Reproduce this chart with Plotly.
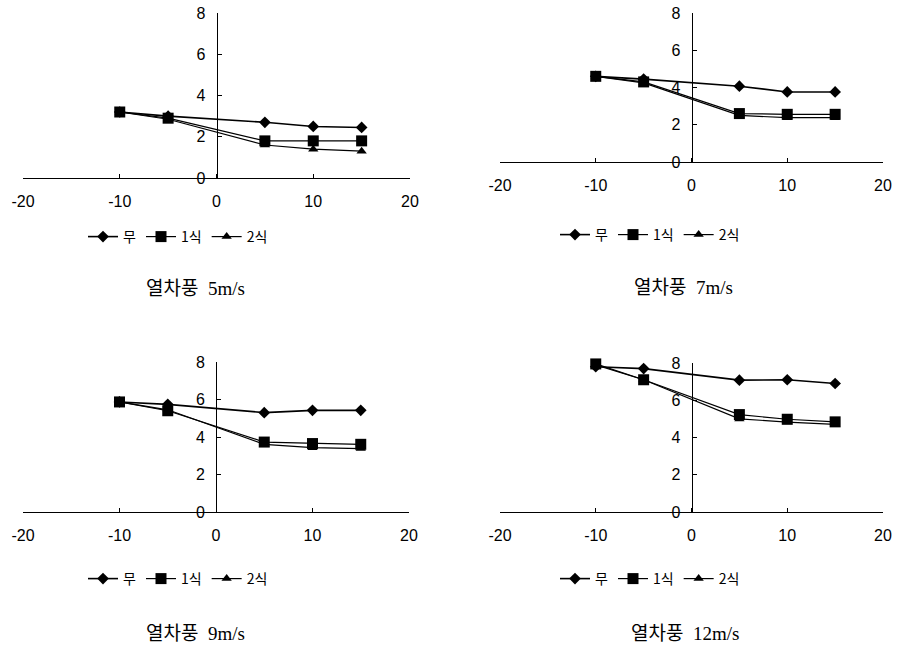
import plotly.graph_objects as go

# ---- data ----
x_vals = [-10, -5, 5, 10, 15]
series_names = ["무", "1식", "2식"]
captions = ["열차풍  5m/s", "열차풍  7m/s", "열차풍  9m/s", "열차풍  12m/s"]

p1_mu = [3.2, 3.0, 2.7, 2.5, 2.45]
p1_s1 = [3.2, 2.9, 1.8, 1.8, 1.8]
p1_s2 = [3.2, 2.85, 1.6, 1.4, 1.3]

p2_mu = [4.6, 4.45, 4.07, 3.76, 3.76]
p2_s1 = [4.6, 4.3, 2.6, 2.56, 2.56]
p2_s2 = [4.6, 4.25, 2.5, 2.38, 2.38]

p3_mu = [5.87, 5.74, 5.3, 5.42, 5.42]
p3_s1 = [5.87, 5.4, 3.73, 3.65, 3.61]
p3_s2 = [5.87, 5.45, 3.61, 3.43, 3.38]

p4_mu = [7.8, 7.7, 7.08, 7.1, 6.9]
p4_s1 = [7.95, 7.1, 5.23, 4.98, 4.84]
p4_s2 = [7.9, 7.1, 5.0, 4.83, 4.71]

panels = [
    (p1_mu, p1_s1, p1_s2),
    (p2_mu, p2_s1, p2_s2),
    (p3_mu, p3_s1, p3_s2),
    (p4_mu, p4_s1, p4_s2),
]

x_ticks = [-20, -10, 0, 10, 20]
x_ticktext = ["-20", "-10", "0", "10", "20"]
y_ticks = [0, 2, 4, 6, 8]

# ---- layout geometry (pixels in 899x645 canvas) ----
W, H = 899, 645
# (x_left(-20), x_right(20), y_top(8), y_bottom(0))
boxes = [
    (23, 410, 13, 178),
    (500, 883, 13, 162),
    (23, 409, 362, 512),
    (500, 883, 363, 512),
]
legend_pos = [(178, 237), (650, 235), (178, 579), (650, 579)]
caption_pos = [(195, 289), (683, 287), (195, 633), (685, 633)]

symbols = ["diamond", "square", "triangle-up"]
msizes = [9, 11, 9]
lwidths = [1.6, 1.2, 1.2]

fig = go.Figure()
tick_font = dict(family="Liberation Sans, Arial, sans-serif", size=16, color="black")
layout = dict(
    width=W, height=H,
    margin=dict(l=0, r=0, t=0, b=0, pad=0, autoexpand=False),
    plot_bgcolor="white", paper_bgcolor="white",
    showlegend=True,
    annotations=[],
)

for i, (box, data) in enumerate(zip(boxes, panels)):
    n = "" if i == 0 else str(i + 1)
    xl, xr, yt, yb = box
    xdom = [xl / W, xr / W]
    ydom = [1 - yb / H, 1 - yt / H]
    leg = "legend" if i == 0 else f"legend{i + 1}"
    for k, (name, vals) in enumerate(zip(series_names, data)):
        fig.add_trace(go.Scatter(
            x=x_vals, y=vals, name=name, mode="lines+markers",
            xaxis="x" + n, yaxis="y" + n, legend=leg,
            line=dict(color="black", width=lwidths[k]),
            marker=dict(symbol=symbols[k], size=msizes[k], color="black"),
            cliponaxis=False,
        ))
    layout["xaxis" + n] = dict(
        domain=xdom, range=[-20, 20], anchor="y" + n,
        tickvals=x_ticks, ticktext=x_ticktext,
        showline=True, linecolor="black", linewidth=1,
        ticks="inside", ticklen=4, tickcolor="black",
        ticklabelstandoff=9,
        showgrid=False, zeroline=False, tickfont=tick_font,
        fixedrange=True, automargin=False,
    )
    layout["yaxis" + n] = dict(
        domain=ydom, range=[0, 8], anchor="free",
        position=(xdom[0] + xdom[1]) / 2,
        tickvals=y_ticks,
        showline=True, linecolor="black", linewidth=1,
        ticks="inside", ticklen=4, tickcolor="black",
        ticklabelstandoff=8,
        showgrid=False, zeroline=False, tickfont=tick_font,
        fixedrange=True, automargin=False,
    )
    lx, ly = legend_pos[i]
    layout[leg] = dict(
        orientation="h", x=lx / W, y=1 - ly / H,
        xanchor="center", yanchor="middle",
        bgcolor="rgba(0,0,0,0)", itemwidth=30,
        font=dict(family="Noto Sans CJK KR, sans-serif", size=14, color="black"),
        tracegroupgap=0,
    )
    cx, cy = caption_pos[i]
    layout["annotations"].append(dict(
        x=cx / W, y=1 - cy / H, xref="paper", yref="paper",
        text=captions[i], showarrow=False,
        xanchor="center", yanchor="middle",
        font=dict(family="Liberation Serif, Noto Sans CJK KR, serif", size=19, color="black"),
    ))

fig.update_layout(**layout)
fig.write_html(
    "out.html",
    config={"displayModeBar": False},
    post_script="document.body.style.margin='0px';document.body.style.overflow='hidden';",
)
